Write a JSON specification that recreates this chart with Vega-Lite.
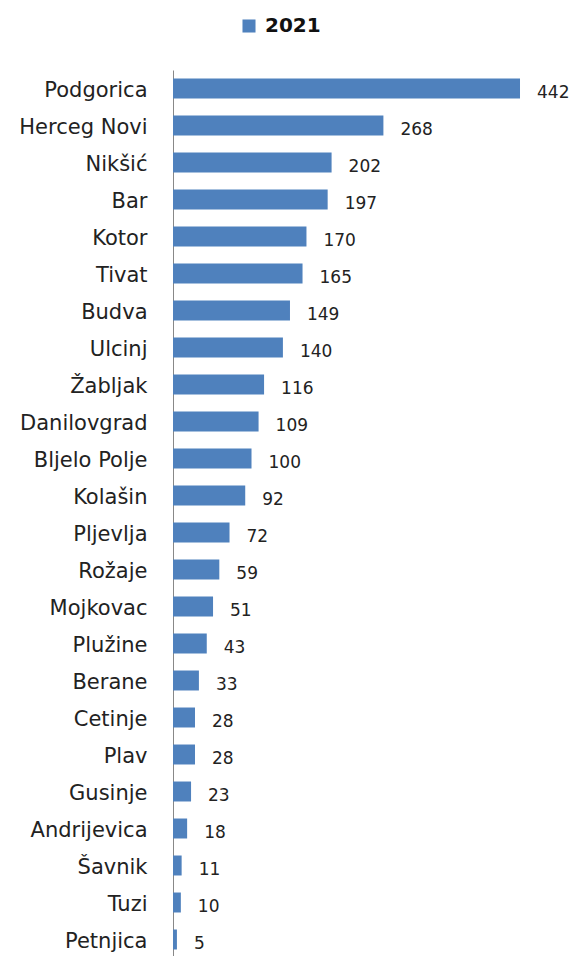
{
  "$schema": "https://vega.github.io/schema/vega-lite/v6.json",
  "autosize": {"type": "none"},
  "padding": {"left": 173, "top": 70, "right": 0, "bottom": 0},
  "width": 400,
  "height": 888,
  "background": "white",
  "config": {"view": {"stroke": null}, "font": "DejaVu Sans"},
  "data": {"values": [
    {"city": "Podgorica", "value": 442, "year": "2021"},
    {"city": "Herceg Novi", "value": 268, "year": "2021"},
    {"city": "Nikšić", "value": 202, "year": "2021"},
    {"city": "Bar", "value": 197, "year": "2021"},
    {"city": "Kotor", "value": 170, "year": "2021"},
    {"city": "Tivat", "value": 165, "year": "2021"},
    {"city": "Budva", "value": 149, "year": "2021"},
    {"city": "Ulcinj", "value": 140, "year": "2021"},
    {"city": "Žabljak", "value": 116, "year": "2021"},
    {"city": "Danilovgrad", "value": 109, "year": "2021"},
    {"city": "Bljelo Polje", "value": 100, "year": "2021"},
    {"city": "Kolašin", "value": 92, "year": "2021"},
    {"city": "Pljevlja", "value": 72, "year": "2021"},
    {"city": "Rožaje", "value": 59, "year": "2021"},
    {"city": "Mojkovac", "value": 51, "year": "2021"},
    {"city": "Plužine", "value": 43, "year": "2021"},
    {"city": "Berane", "value": 33, "year": "2021"},
    {"city": "Cetinje", "value": 28, "year": "2021"},
    {"city": "Plav", "value": 28, "year": "2021"},
    {"city": "Gusinje", "value": 23, "year": "2021"},
    {"city": "Andrijevica", "value": 18, "year": "2021"},
    {"city": "Šavnik", "value": 11, "year": "2021"},
    {"city": "Tuzi", "value": 10, "year": "2021"},
    {"city": "Petnjica", "value": 5, "year": "2021"}
  ]},
  "encoding": {
    "y": {
      "field": "city", "type": "nominal", "sort": null,
      "scale": {"paddingInner": 0.46, "paddingOuter": 0.23},
      "axis": {
        "title": null, "ticks": false, "labelPadding": 26, "labelOffset": 2,
        "labelFont": "DejaVu Sans", "labelFontSize": 21, "labelColor": "#222",
        "domainColor": "#888", "domainWidth": 1, "grid": false
      }
    },
    "x": {
      "field": "value", "type": "quantitative",
      "scale": {"domain": [0, 509.5], "nice": false},
      "axis": null
    }
  },
  "layer": [
    {
      "mark": {"type": "bar"},
      "encoding": {
        "color": {
          "field": "year", "type": "nominal",
          "scale": {"range": ["#4F81BD"]},
          "legend": {
            "title": null, "orient": "none", "legendX": 66, "legendY": -54,
            "padding": 0, "symbolType": "square", "symbolSize": 170,
            "symbolStrokeWidth": 0, "labelFont": "DejaVu Sans",
            "labelFontSize": 20, "labelFontWeight": "bold", "labelColor": "#111",
            "labelOffset": 6
          }
        }
      }
    },
    {
      "mark": {"type": "text", "align": "left", "baseline": "middle", "dx": 17, "dy": 4, "font": "DejaVu Sans", "fontSize": 17, "color": "#222"},
      "encoding": {"text": {"field": "value", "type": "quantitative"}}
    }
  ]
}
